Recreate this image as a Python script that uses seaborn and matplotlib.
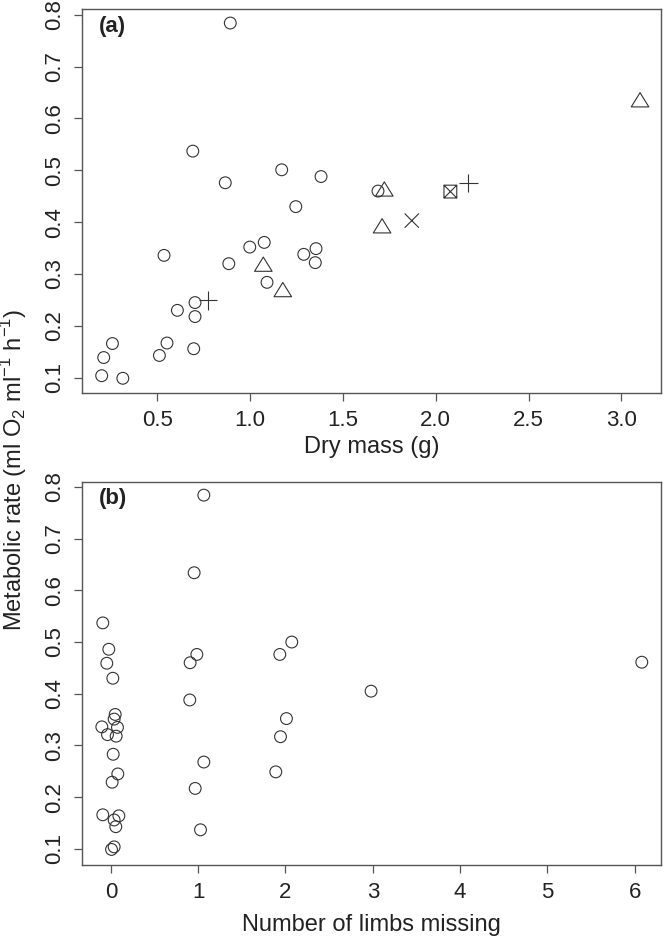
import numpy as np
import pandas as pd
import matplotlib
matplotlib.use('Agg')
import matplotlib.pyplot as plt
from matplotlib.path import Path
import seaborn as sns

# Panel (a): dry mass (g) vs metabolic rate, one array pair per symbol
mass_circle = [0.893, 0.691, 1.170, 0.866, 1.382, 1.246, 0.536, 0.998, 1.076,
               0.885, 1.289, 1.355, 1.351, 1.091, 0.703, 0.608, 0.703, 0.258,
               0.211, 0.200, 0.314, 0.511, 0.552, 0.696, 1.689]
rate_circle = [0.784, 0.537, 0.501, 0.476, 0.488, 0.430, 0.336, 0.352, 0.361,
               0.320, 0.338, 0.349, 0.322, 0.284, 0.245, 0.230, 0.218, 0.166,
               0.139, 0.104, 0.099, 0.143, 0.167, 0.156, 0.460]
mass_triangle = [1.071, 1.176, 1.723, 1.711, 3.101]
rate_triangle = [0.319, 0.270, 0.464, 0.393, 0.636]
mass_plus = [0.772, 2.176]
rate_plus = [0.249, 0.475]
mass_cross = [1.871]
rate_cross = [0.403]
mass_boxcross = [2.079]
rate_boxcross = [0.459]

# Panel (b): number of limbs missing (jittered) vs metabolic rate
limbs = [1.065, 0.954, -0.092, -0.023, -0.046, 0.023, 0.908, 0.985, 0.904,
         1.935, 2.072, 2.011, 1.943, 1.889, 1.065, 0.966, 1.027,
         0.050, 0.038, -0.103, 0.076, -0.038, 0.061, 0.027, 0.080, 0.015,
         -0.092, 0.092, 0.038, 0.057, 0.038, 0.008, 2.98, 6.08]
rate_limbs = [0.784, 0.634, 0.537, 0.486, 0.459, 0.430, 0.460, 0.476, 0.388,
              0.476, 0.500, 0.352, 0.317, 0.249, 0.268, 0.217, 0.137,
              0.360, 0.351, 0.336, 0.335, 0.321, 0.318, 0.283, 0.245, 0.229,
              0.166, 0.164, 0.156, 0.143, 0.104, 0.099, 0.405, 0.461]

mass_ticks = [0.5, 1.0, 1.5, 2.0, 2.5, 3.0]
limb_ticks = [0, 1, 2, 3, 4, 5, 6]
rate_ticks = [0.1, 0.2, 0.3, 0.4, 0.5, 0.6, 0.7, 0.8]

# R-like open symbols as paths
M, L, C = Path.MOVETO, Path.LINETO, Path.CLOSEPOLY
tri = Path([(-1, -0.81), (1, -0.81), (0, 0.81), (-1, -0.81)], [M, L, L, C])
plus = Path([(-1, 0), (1, 0), (0, -1), (0, 1)], [M, L, M, L])
cross = Path([(-1, -1), (1, 1), (-1, 1), (1, -1)], [M, L, M, L])
boxcross = Path([(-1, -1), (1, -1), (1, 1), (-1, 1), (-1, -1),
                 (-1, -1), (1, 1), (-1, 1), (1, -1)],
                [M, L, L, L, C, M, L, M, L])

sns.set_style('ticks')
plt.rcParams['font.family'] = ['Liberation Sans', 'DejaVu Sans']
plt.rcParams['mathtext.fontset'] = 'custom'
plt.rcParams['mathtext.rm'] = 'Liberation Sans'

edge = '#333333'
axis_col = '#555555'
text_col = '#222222'
fs_tick = 16
fs_lab = 17

fig = plt.figure(figsize=(6.64, 9.41), dpi=100)
ax1 = fig.add_axes([0.1235, 0.5824, 0.872, 0.408])
ax2 = fig.add_axes([0.1235, 0.0808, 0.872, 0.4073])

groups_a = [
    (mass_circle, rate_circle, 'o', 72),
    (mass_triangle, rate_triangle, tri, 160),
    (mass_plus, rate_plus, plus, 175),
    (mass_cross, rate_cross, cross, 105),
    (mass_boxcross, rate_boxcross, boxcross, 85),
]
for xs, ys, mk, size in groups_a:
    df = pd.DataFrame({'mass': xs, 'rate': ys})
    sns.scatterplot(data=df, x='mass', y='rate', marker=mk, s=size,
                    facecolor='none', edgecolor=edge, linewidth=0.8, ax=ax1)

df_b = pd.DataFrame({'limbs': limbs, 'rate': rate_limbs})
sns.scatterplot(data=df_b, x='limbs', y='rate', marker='o', s=72,
                facecolor='none', edgecolor=edge, linewidth=0.8, ax=ax2)

ax1.set_xlim(0.094, 3.214)
ax1.set_ylim(0.0707, 0.811)
ax1.set_xticks(mass_ticks)
ax1.set_xticklabels([f'{t:.1f}' for t in mass_ticks])
ax1.set_xlabel('Dry mass (g)', fontsize=fs_lab, color=text_col, labelpad=4)

ax2.set_xlim(-0.33, 6.30)
ax2.set_ylim(0.069, 0.81)
ax2.set_xticks(limb_ticks)
ax2.set_xlabel('Number of limbs missing', fontsize=fs_lab, color=text_col, labelpad=8)

for ax, tag in [(ax1, '(a)'), (ax2, '(b)')]:
    ax.set_yticks(rate_ticks)
    ax.set_yticklabels([f'{t:.1f}' for t in rate_ticks], rotation=90, va='center')
    ax.set_ylabel('')
    for sp in ax.spines.values():
        sp.set_color(axis_col)
        sp.set_linewidth(1.0)
    ax.tick_params(length=6, width=0.9, color=axis_col, labelsize=fs_tick,
                   labelcolor=text_col, pad=6)
    ax.text(0.03, 0.955, tag, transform=ax.transAxes, fontsize=fs_tick,
            fontweight='bold', color=text_col, ha='left', va='center')

fig.text(0.021, 0.5005, 'Metabolic rate (ml O$_2$ ml$^{-1}$ h$^{-1}$)',
         rotation=90, ha='center', va='center', fontsize=fs_lab, color=text_col)

fig.savefig('out.png', dpi=100)
